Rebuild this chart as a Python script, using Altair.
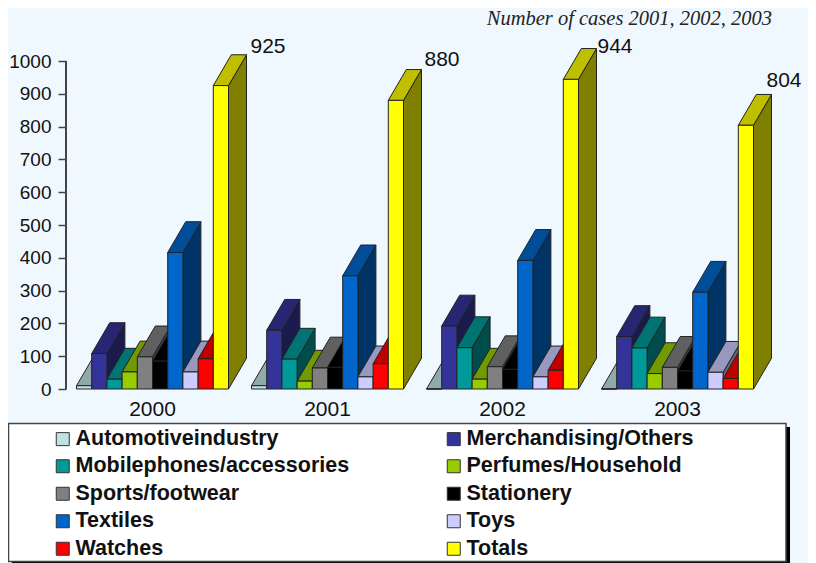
import altair as alt
import pandas as pd

years = ["2000", "2001", "2002", "2003"]
categories = ["Automotiveindustry", "Merchandising/Others", "Mobilephones/accessories",
              "Perfumes/Household", "Sports/footwear", "Stationery", "Textiles", "Toys",
              "Watches", "Totals"]
automotive = [10, 10, 0, 0]
merchandising = [108, 179, 192, 160]
mobile = [30, 91, 126, 125]
perfumes = [52, 24, 30, 47]
sports = [98, 64, 68, 66]
stationery = [85, 66, 60, 55]
textiles = [416, 345, 392, 295]
toys = [52, 37, 37, 51]
watches = [92, 77, 57, 32]
totals = [925, 880, 944, 804]
series = [automotive, merchandising, mobile, perfumes, sports, stationery, textiles, toys, watches, totals]

front_colors = ["#BFE3E3", "#333399", "#009999", "#99CC00", "#808080", "#000000", "#0066CC", "#CCCCFF", "#FF0000", "#FFFF00"]
top_colors = ["#90AAAA", "#262673", "#007373", "#739900", "#606060", "#000000", "#004D99", "#9999BF", "#BF0000", "#BFBF00"]
side_colors = ["#607272", "#1A1A4D", "#004D4D", "#4D6600", "#404040", "#000000", "#003366", "#666680", "#800000", "#808000"]

BG = "#F0F8FF"
EDGE = "#222222"
FONT = "Liberation Sans"

PX_PER_BAR = 15.2
GROUP_STEP = 175 / PX_PER_BAR
DEPTH_X = 18 / PX_PER_BAR
DEPTH_Y = 94
PLOT_W, PLOT_H = 742, 381
X_MIN = -10.5 / PX_PER_BAR
xscale = alt.Scale(domain=[X_MIN, X_MIN + PLOT_W / PX_PER_BAR], nice=False, zero=False)
yscale = alt.Scale(domain=[0, PLOT_H / 0.328], nice=False, zero=False)
color_scale = alt.Scale(domain=categories, range=front_colors)

X = lambda f: alt.X(f, type="quantitative", scale=xscale, axis=None)
Y = lambda f: alt.Y(f, type="quantitative", scale=yscale, axis=None)

layers = []

# legend panel: drop shadow, then box
layers.append(alt.Chart(pd.DataFrame({"a": [0]})).mark_rect(color="#000000").encode(
    x=alt.value(-54), x2=alt.value(724), y=alt.value(419), y2=alt.value(560)))
layers.append(alt.Chart(pd.DataFrame({"a": [0]})).mark_rect(fill="#FFFFFF", stroke="#444444", strokeWidth=1.5).encode(
    x=alt.value(-57.5), x2=alt.value(720), y=alt.value(415.5), y2=alt.value(553.5)))

# y axis
layers.append(alt.Chart(pd.DataFrame({"lo": [0], "hi": [1000]})).mark_rule(color="#444444", strokeWidth=2).encode(
    x=alt.value(0),
    y=alt.Y("lo:Q", scale=yscale, title=None, axis=alt.Axis(
        values=list(range(0, 1001, 100)), format="d", domain=False, grid=False, title=None,
        tickSize=8, tickColor="#444444", tickWidth=1.5, labelPadding=7,
        labelFont=FONT, labelFontSize=19, labelColor="#111111")),
    y2="hi:Q"))

first = True
for g, year in enumerate(years):
    for b, cat in enumerate(categories):
        v = series[b][g]
        x0 = g * GROUP_STEP + b
        x1 = x0 + 1
        side = pd.DataFrame({"x": [x1, x1 + DEPTH_X], "lo": [0, DEPTH_Y], "hi": [v, v + DEPTH_Y]})
        top = pd.DataFrame({"y": [v, v + DEPTH_Y], "xl": [x0, x0 + DEPTH_X], "xr": [x1, x1 + DEPTH_X]})
        front = pd.DataFrame({"x0": [x0], "x1": [x1], "v": [v], "base": [0], "cat": [cat]})
        layers.append(alt.Chart(side).mark_area(
            orient="vertical", fill=side_colors[b], stroke=EDGE, strokeWidth=1
        ).encode(x=X("x"), y=Y("hi"), y2="lo"))
        layers.append(alt.Chart(top).mark_area(
            orient="horizontal", fill=top_colors[b], stroke=EDGE, strokeWidth=1
        ).encode(y=Y("y"), x=X("xl"), x2="xr"))
        legend = alt.Legend(
            orient="none", legendX=-14, legendY=420, columns=2, direction="horizontal",
            title=None, symbolType="square", symbolSize=169, symbolStrokeColor="#333333",
            symbolStrokeWidth=1, labelFont=FONT, labelFontSize=21.5, labelFontWeight="bold",
            labelColor="#111111", labelOffset=2, columnPadding=93, rowPadding=4.5,
            labelLimit=400, padding=0, zindex=1
        ) if first else None
        first = False
        layers.append(alt.Chart(front).mark_rect(stroke=EDGE, strokeWidth=1).encode(
            x=X("x0"), x2="x1", y=Y("v"), y2="base",
            color=alt.Color("cat:N", scale=color_scale, legend=legend)))

# value labels above the Totals bars
nudges = [(4, -8), (3, -10), (1, -2), (-5, -13)]
for g, year in enumerate(years):
    lab = pd.DataFrame({"x": [g * GROUP_STEP + 10 + DEPTH_X], "y": [totals[g] + DEPTH_Y], "t": [str(totals[g])]})
    layers.append(alt.Chart(lab).mark_text(
        align="left", baseline="middle", dx=nudges[g][0], dy=nudges[g][1],
        font=FONT, fontSize=21, color="#111111"
    ).encode(x=X("x"), y=Y("y"), text="t:N"))

# year labels
yr = pd.DataFrame({"x": [g * GROUP_STEP + 5 for g in range(4)], "t": years})
layers.append(alt.Chart(yr).mark_text(
    align="center", baseline="middle", font=FONT, fontSize=21, color="#111111"
).encode(x=X("x"), y=alt.value(402), text="t:N"))

# heading
layers.append(alt.Chart(pd.DataFrame({"t": ["Number of cases 2001, 2002, 2003"]})).mark_text(
    align="right", baseline="middle", font="Liberation Serif", fontStyle="italic",
    fontSize=20.5, color="#222222"
).encode(x=alt.value(706), y=alt.value(10.5), text="t:N"))

chart = alt.layer(*layers).resolve_scale(x="shared", y="shared").resolve_axis(y="independent").properties(
    width=PLOT_W, height=PLOT_H, background=BG, autosize="none",
    padding={"left": 58, "top": 0, "right": 0, "bottom": 174}
).configure_view(stroke=None)

chart.save("out.html", embed_options={"renderer": "svg", "actions": False})
